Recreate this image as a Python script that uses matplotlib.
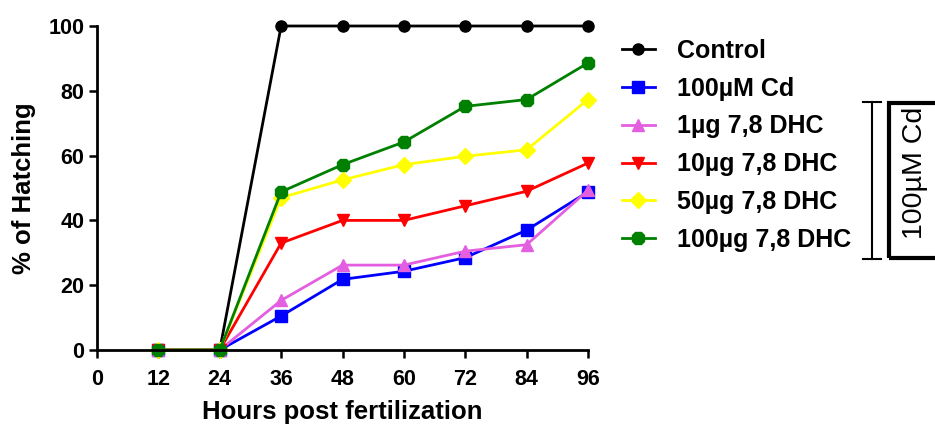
import matplotlib
matplotlib.use("Agg")
import matplotlib.pyplot as plt
from matplotlib.patches import Rectangle
from matplotlib.lines import Line2D

plt.rcParams['font.family'] = ['Liberation Sans', 'DejaVu Sans']

hours = [12, 24, 36, 48, 60, 72, 84, 96]
control = [0, 0, 100, 100, 100, 100, 100, 100]
cd = [0, 0, 10.5, 21.8, 24.3, 28.5, 37, 48.8]
dhc_1 = [0, 0, 15.3, 26.2, 26.2, 30.5, 32.5, 49.3]
dhc_10 = [0, 0, 33, 40, 40, 44.5, 49, 57.7]
dhc_50 = [0, 0, 47, 52.5, 57.2, 59.8, 61.8, 77.3]
dhc_100 = [0, 0, 48.8, 57.2, 64.2, 75.2, 77.3, 88.6]

labels = ['Control', '100\u00b5M Cd', '1\u00b5g 7,8 DHC', '10\u00b5g 7,8 DHC',
          '50\u00b5g 7,8 DHC', '100\u00b5g 7,8 DHC']
series = [control, cd, dhc_1, dhc_10, dhc_50, dhc_100]
colors = ['black', '#0000ff', '#e35fe0', '#ff0000', '#ffff00', '#008000']
markers = ['o', 's', '^', 'v', 'D', '8']
sizes = [8, 8, 8, 8, 8, 10]

fig = plt.figure(figsize=(9.35, 4.25), dpi=100)
ax = fig.add_axes([97/935, 1-350/425, (588-97)/935, (350-26)/425])

for y, lab, c, m, s in zip(series, labels, colors, markers, sizes):
    ax.plot(hours, y, color=c, marker=m, markersize=s, lw=2, label=lab, clip_on=False)

ax.set_xlim(0, 96)
ax.set_ylim(0, 100)
ax.set_xticks([0, 12, 24, 36, 48, 60, 72, 84, 96])
ax.set_yticks([0, 20, 40, 60, 80, 100])
for sp in ['top', 'right']:
    ax.spines[sp].set_visible(False)
for sp in ['left', 'bottom']:
    ax.spines[sp].set_linewidth(2)
ax.tick_params(width=1.8, length=6, labelsize=15.5, pad=3)
ax.tick_params(axis='x', pad=8)
for t in ax.get_xticklabels() + ax.get_yticklabels():
    t.set_fontweight('bold')
ax.set_xlabel('Hours post fertilization', fontsize=18.5, fontweight='bold', labelpad=7)
ax.set_ylabel('% of Hatching', fontsize=18.5, fontweight='bold', labelpad=9)

leg = fig.legend(loc='upper left', bbox_to_anchor=(612/935, 1-29/425), frameon=False,
                 prop={'weight': 'bold', 'size': 18}, handlelength=1.3,
                 labelspacing=0.55, handletextpad=0.9, borderaxespad=0)

# bracket and boxed label
bx = 872
fig.add_artist(Line2D([bx/935, bx/935], [1-102/425, 1-259/425], color='black', lw=1.5))
for yy in [102, 259]:
    fig.add_artist(Line2D([(bx-9)/935, (bx+9)/935], [1-yy/425, 1-yy/425], color='black', lw=1.5))
fig.add_artist(Rectangle((889/935, 1-258/425), 60/935, 155/425, transform=fig.transFigure,
                         fill=False, edgecolor='black', lw=3, clip_on=False))
fig.text(915/935, 1-173/425, '100\u00b5M Cd', rotation=90, ha='center', va='center', fontsize=20.5)

fig.savefig('out.png', dpi=100)
